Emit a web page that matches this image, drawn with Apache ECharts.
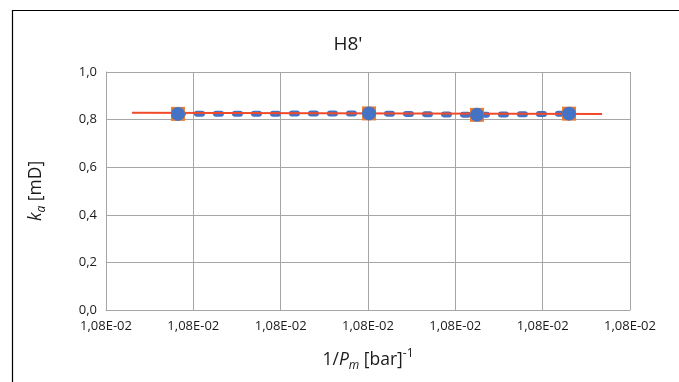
<!DOCTYPE html>
<html>
<head>
<meta charset="utf-8">
<script src="https://cdn.jsdelivr.net/npm/echarts@6/dist/echarts.min.js"></script>
<style>
html, body { margin: 0; padding: 0; background: #fff; }
#main { width: 679px; height: 382px; }
</style>
</head>
<body>
<div id="main"></div>
<script>
// measured points (1/Pm, ka)
var pointX = [0.010800824, 0.010803012, 0.010804248, 0.010805302];
var pointY = [0.824, 0.826, 0.820, 0.825];
// trend line ends
var trendX = [0.010800298, 0.010805680];
var trendY = [0.829, 0.8235];
var xTicks = [0.010800, 0.010801, 0.010802, 0.010803, 0.010804, 0.010805, 0.010806];
var yTicks = [0, 0.2, 0.4, 0.6, 0.8, 1.0];

function pairs(xs, ys) {
	var out = [];
	for (var i = 0; i < xs.length; i++) out.push([xs[i], ys[i]]);
	return out;
}
function sci(v) {
	var s = v.toExponential(2).split('e');
	var e = parseInt(s[1], 10);
	var sign = e < 0 ? '-' : '+';
	e = Math.abs(e);
	return s[0].replace('.', ',') + 'E' + sign + (e < 10 ? '0' + e : e);
}

var font = 'Open Sans';
var txt = '#1a1a1a';
var myChart = echarts.init(document.getElementById('main'));
var option = {
	animation: false,
	title: {
		text: "H8'",
		left: 343,
		top: 30,
		textAlign: 'center',
		textStyle: { fontFamily: font, fontSize: 19, fontWeight: 'normal', color: txt }
	},
	graphic: [{
		type: 'rect',
		shape: { x: 12.5, y: 10.5, width: 720, height: 420 },
		style: { fill: 'none', stroke: '#000', lineWidth: 1.2 },
		silent: true
	}],
	grid: { left: 106, right: 49, top: 72, bottom: 72 },
	xAxis: {
		type: 'value',
		min: xTicks[0],
		max: xTicks[xTicks.length - 1],
		interval: 0.000001,
		axisLine: { show: true, lineStyle: { color: '#a6a6a6', width: 1 } },
		axisTick: { show: false },
		splitLine: { show: true, lineStyle: { color: '#a6a6a6', width: 1 } },
		axisLabel: { fontFamily: font, fontSize: 13, color: txt, margin: 10, formatter: sci },
		name: '1/{i|P}{s|m} [bar]{p|-1}',
		nameLocation: 'middle',
		nameGap: 38,
		nameTextStyle: {
			fontFamily: font, fontSize: 17.5, color: txt, lineHeight: 24,
			rich: {
				i: { fontFamily: font, fontSize: 17.5, fontStyle: 'italic', color: txt, verticalAlign: 'middle' },
				s: { fontFamily: font, fontSize: 12, fontStyle: 'italic', color: txt, verticalAlign: 'bottom', lineHeight: 24 },
				p: { fontFamily: font, fontSize: 12, color: txt, verticalAlign: 'top', lineHeight: 24 }
			}
		}
	},
	yAxis: {
		type: 'value',
		min: yTicks[0],
		max: yTicks[yTicks.length - 1],
		interval: 0.2,
		axisLine: { show: true, lineStyle: { color: '#a6a6a6', width: 1 } },
		axisTick: { show: false },
		splitLine: { show: true, lineStyle: { color: '#a6a6a6', width: 1 } },
		axisLabel: { fontFamily: font, fontSize: 13, color: txt, margin: 9,
			formatter: function (v) { return v.toFixed(1).replace('.', ','); } },
		name: '{i|k}{s|a} [mD]',
		nameLocation: 'middle',
		nameRotate: 90,
		nameGap: 58,
		nameTextStyle: {
			fontFamily: font, fontSize: 17.5, color: txt, lineHeight: 24,
			rich: {
				i: { fontFamily: font, fontSize: 17.5, fontStyle: 'italic', color: txt, verticalAlign: 'middle' },
				s: { fontFamily: font, fontSize: 12, fontStyle: 'italic', color: txt, verticalAlign: 'bottom', lineHeight: 24 }
			}
		}
	},
	series: [
		{
			name: 'dashed',
			type: 'line',
			data: pairs(pointX, pointY),
			showSymbol: false,
			z: 1,
			lineStyle: { color: '#4472c4', width: 6, type: [5, 14], cap: 'round' }
		},
		{
			name: 'trend',
			type: 'line',
			data: pairs(trendX, trendY),
			showSymbol: false,
			z: 2,
			lineStyle: { color: '#f04a2a', width: 2 }
		},
		{
			name: 'square',
			type: 'scatter',
			data: pairs(pointX, pointY),
			symbol: 'rect',
			symbolSize: 14,
			z: 3,
			itemStyle: { color: '#ed7d31', opacity: 1 }
		},
		{
			name: 'circle',
			type: 'scatter',
			data: pairs(pointX, pointY),
			symbol: 'circle',
			symbolSize: 14,
			z: 4,
			itemStyle: { color: '#4472c4', opacity: 1 }
		}
	]
};
myChart.setOption(option);
</script>
</body>
</html>
